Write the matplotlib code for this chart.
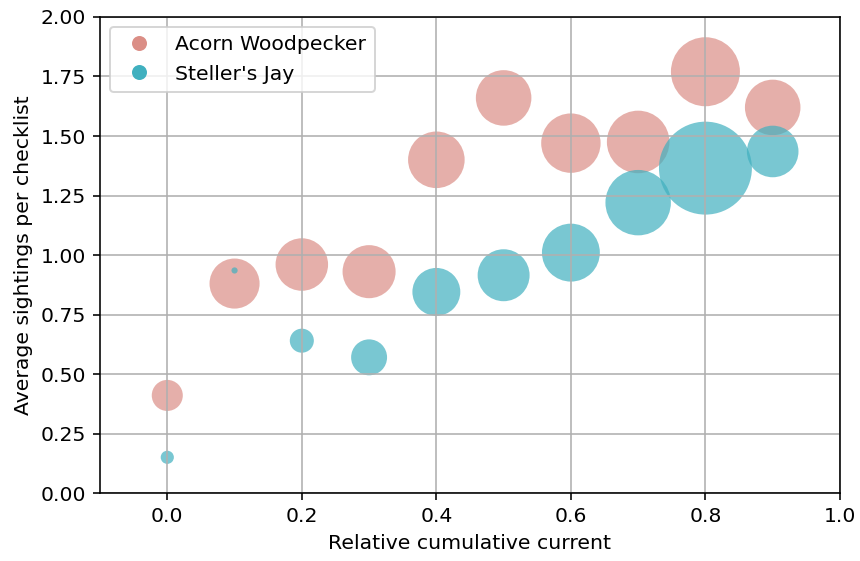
import matplotlib

matplotlib.use("Agg")
import matplotlib.pyplot as plt
from matplotlib.lines import Line2D

# relative cumulative current bins
current = [0.0, 0.1, 0.2, 0.3, 0.4, 0.5, 0.6, 0.7, 0.8, 0.9]

# average sightings per checklist
acorn_sightings = [0.41, 0.88, 0.96, 0.93, 1.40, 1.66, 1.47, 1.475, 1.77, 1.62]
jay_sightings = [0.15, 0.935, 0.64, 0.57, 0.845, 0.915, 1.01, 1.22, 1.365, 1.435]

# checklists per bin (drives bubble area)
acorn_checklists = [50, 130, 143, 146, 166, 160, 183, 203, 247, 160]
jay_checklists = [9, 2, 30, 67, 119, 140, 174, 222, 448, 138]

ACORN_COLOR = "#db8e86"
JAY_COLOR = "#40b0bf"
AREA_SCALE = 4.82

plt.rcParams["font.size"] = 10.2

DPI = 144
fig = plt.figure(figsize=(860 / DPI, 561 / DPI), dpi=DPI)
ax = fig.add_axes([0.1163, 0.1212, 0.8604, 0.8485])

ax.scatter(current, acorn_sightings,
           s=[n * AREA_SCALE for n in acorn_checklists],
           color=ACORN_COLOR, alpha=0.7, linewidths=0)
ax.scatter(current, jay_sightings,
           s=[n * AREA_SCALE for n in jay_checklists],
           color=JAY_COLOR, alpha=0.7, linewidths=0)

ax.set_xlim(-0.1, 1.0)
ax.set_ylim(0, 2.0)
ax.set_yticks([0, 0.25, 0.5, 0.75, 1.0, 1.25, 1.5, 1.75, 2.0])
ax.yaxis.set_major_formatter(matplotlib.ticker.FormatStrFormatter("%.2f"))
ax.grid(True, color="#b0b0b0")
ax.set_xlabel("Relative cumulative current")
ax.set_ylabel("Average sightings per checklist")

handles = [
    Line2D([], [], linestyle="none", marker="o", markersize=7.5,
           markerfacecolor=ACORN_COLOR, markeredgewidth=0, label="Acorn Woodpecker"),
    Line2D([], [], linestyle="none", marker="o", markersize=7.5,
           markerfacecolor=JAY_COLOR, markeredgewidth=0, label="Steller's Jay"),
]
ax.legend(handles=handles, loc="upper left")

fig.savefig("out.png", dpi=DPI)
